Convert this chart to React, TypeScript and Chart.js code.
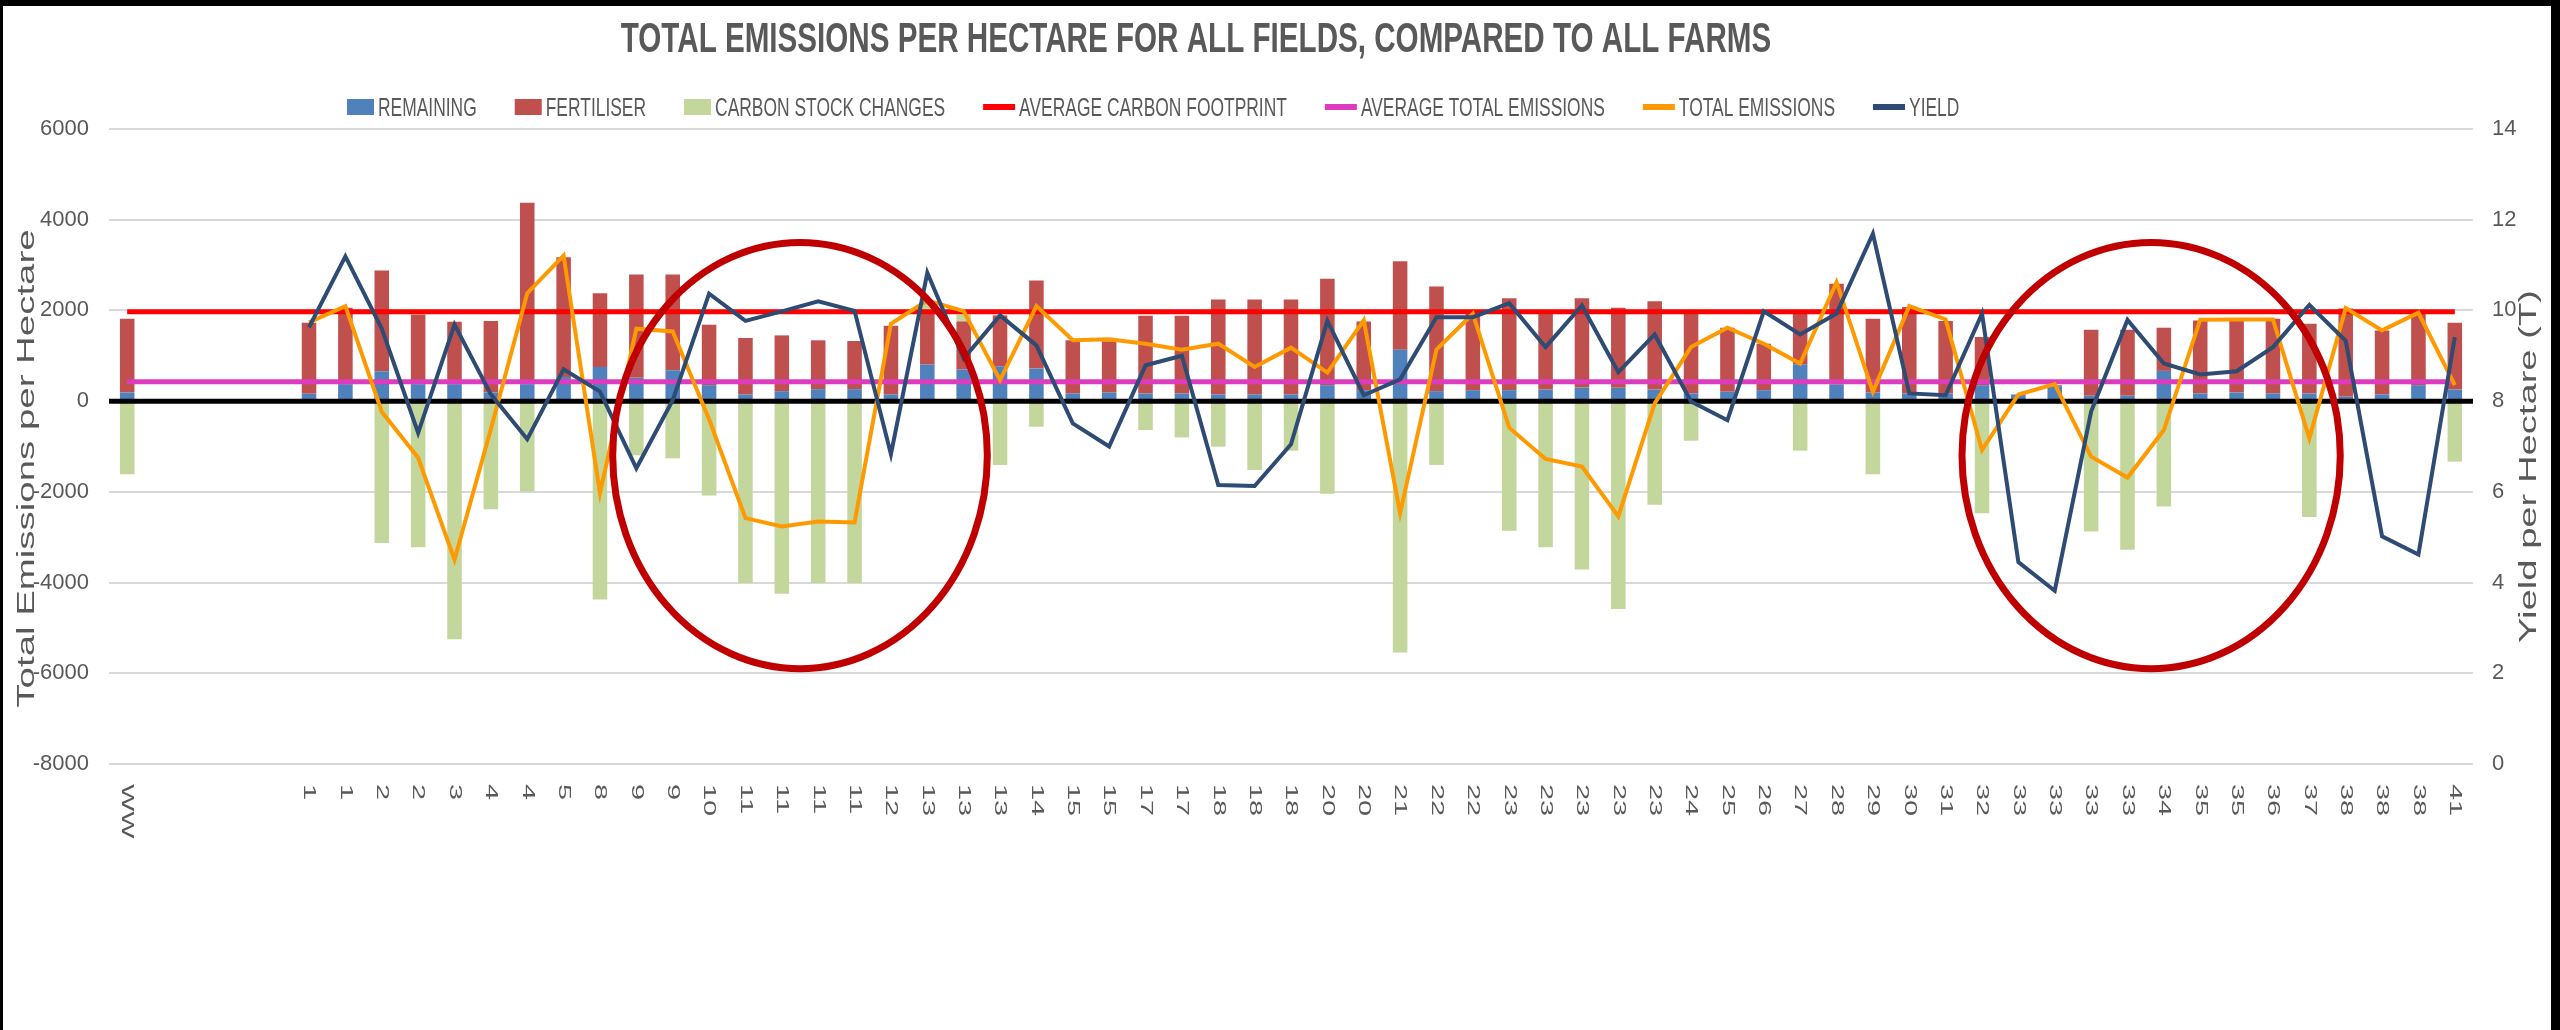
import React, { useEffect, useRef } from 'react';
import { Chart, registerables } from 'chart.js';

Chart.register(...registerables);

// ---------------- DATA ----------------
const categories = [
  'WW', '', '', '', '',
  '1', '1', '2', '2', '3', '4', '4', '5', '8', '9',
  '9', '10', '11', '11', '11', '11', '12', '13', '13', '13',
  '14', '15', '15', '17', '17', '18', '18', '18', '20', '20',
  '21', '22', '22', '23', '23', '23', '23', '23', '24', '25',
  '26', '27', '28', '29', '30', '31', '32', '33', '33', '33',
  '33', '34', '35', '35', '36', '37', '38', '38', '38', '41',
];

const remaining = [
  190, null, null, null, null,
  161, 374, 659, 374, 374, 190, 374, 535, 755, 513,
  681, 352, 147, 220, 264, 264, 147, 806, 696, 769,
  718, 168, 190, 168, 168, 147, 147, 147, 352, 242,
  1135, 220, 242, 242, 256, 300, 293, 256, 168, 205,
  242, 813, 366, 190, 168, 168, 352, 147, 330, 117,
  117, 667, 168, 190, 168, 168, 95, 147, 352, 256,
];

const fertiliser = [
  1627, null, null, null, null,
  1568, 1685, 2220, 1538, 1377, 1576, 4000, 2637, 1626, 2278,
  2110, 1333, 1245, 1230, 1077, 1062, 1516, 1209, 1062, 1121,
  1941, 1173, 1129, 1715, 1715, 2095, 2095, 2095, 2344, 1516,
  1949, 2307, 1685, 2029, 1707, 1971, 1766, 1949, 1795, 1414,
  1025, 1150, 2220, 1627, 1905, 1598, 1062, 0, 20, 1458,
  1458, 952, 1612, 1590, 1649, 1539, 1950, 1413, 1597, 1473,
];

const carbonStockChanges = [
  -1612, null, null, null, null,
  null, null, -3128, -3223, -5252, -2381, -1993, null, -4374, -1194,
  -1260, -2081, -4007, -4249, -4007, -4007, null, 190, 154, -1407,
  -564, null, null, -637, -799, -1004, -1516, -1092, -2044, null,
  -5540, -1407, null, -2857, -3223, -3714, -4580, -2286, -872, null,
  null, -1092, null, -1612, null, null, -2469, null, null, -2872,
  -3275, -2322, null, null, null, -2557, null, null, null, -1333,
];

const totalEmissions = [
  null, null, null, null, null,
  1735, 2095, -234, -1250, -3495, -615, 2381, 3209, -2029, 1597,
  1538, -400, -2579, -2762, -2652, -2674, 1707, 2220, 1985, 462,
  2095, 1341, 1363, 1267, 1136, 1267, 755, 1180, 630, 1780,
  -2469, 1136, 1927, -586, -1275, -1443, -2542, -51, 1194, 1619,
  1267, 828, 2623, 205, 2095, 1802, -1077, 147, 374, -1223,
  -1685, -637, 1795, 1802, 1802, -820, 2051, 1560, 1949, 352,
];

const yieldPerHectare = [
  null, null, null, null, null,
  9.63, 11.19, 9.6, 7.3, 9.69, 8.15, 7.16, 8.7, 8.21, 6.52,
  8.02, 10.37, 9.77, 9.98, 10.2, 9.99, 6.83, 10.83, 8.94, 9.89,
  9.23, 7.51, 7.0, 8.79, 9.0, 6.15, 6.13, 7.05, 9.77, 8.13,
  8.48, 9.85, 9.85, 10.16, 9.19, 10.11, 8.64, 9.47, 7.99, 7.58,
  9.98, 9.47, 9.93, 11.69, 8.17, 8.13, 9.93, 4.45, 3.82, 7.77,
  9.79, 8.83, 8.59, 8.66, 9.19, 10.12, 9.33, 5.02, 4.62, 9.41,
];

const averageCarbonFootprint = 1970;
const averageTotalEmissions = 425;

const leftTicks = { min: -8000, max: 6000, step: 2000 };
const rightTicks = { min: 0, max: 14, step: 2 };

// highlighted groups (in data units: category index, emission value)
const highlights = [
  { center: 18.5, value: -1200, halfCats: 5.15, halfValue: 4700 },
  { center: 55.65, value: -1200, halfCats: 5.2, halfValue: 4700 },
];

const TITLE = 'TOTAL EMISSIONS PER HECTARE FOR ALL FIELDS, COMPARED TO ALL FARMS';
const Y_TITLE = 'Total Emissions per Hectare';
const Y1_TITLE = 'Yield per Hectare (T)';

// ---------------- STYLE ----------------
const C_REMAIN = '#4F81BD';
const C_FERT = '#C0504D';
const C_CARBON = '#C3D69B';
const C_AVG_CF = '#FF0000';
const C_AVG_TE = '#DE3CBE';
const C_TOTAL = '#FF9900';
const C_YIELD = '#2D4B73';
const C_TEXT = '#595959';
const FONT = '"Liberation Sans", Arial, sans-serif';
const NARROW = '"Liberation Sans Narrow", "Liberation Sans", Arial, sans-serif';

const legendItems = [
  { label: 'REMAINING', kind: 'box', color: C_REMAIN },
  { label: 'FERTILISER', kind: 'box', color: C_FERT },
  { label: 'CARBON STOCK CHANGES', kind: 'box', color: C_CARBON },
  { label: 'AVERAGE CARBON FOOTPRINT', kind: 'line', color: C_AVG_CF },
  { label: 'AVERAGE TOTAL EMISSIONS', kind: 'line', color: C_AVG_TE },
  { label: 'TOTAL EMISSIONS', kind: 'line', color: C_TOTAL },
  { label: 'YIELD', kind: 'line', color: C_YIELD },
];

const BAR_LAST_DRAWN = 4; // index of the 'remaining' dataset (drawn last among bars)

const decorPlugin = {
  id: 'decor',
  afterDatasetDraw(chart: any, args: any) {
    if (args.index !== BAR_LAST_DRAWN) return;
    const { ctx, chartArea } = chart;
    const y0 = chart.scales.y.getPixelForValue(0);
    ctx.save();
    ctx.strokeStyle = '#000000';
    ctx.lineWidth = 5;
    ctx.beginPath();
    ctx.moveTo(chartArea.left, y0);
    ctx.lineTo(chartArea.right, y0);
    ctx.stroke();
    ctx.restore();
  },
  afterDraw(chart: any) {
    const { ctx } = chart;
    const xs = chart.scales.x;
    const ys = chart.scales.y;

    // Title
    ctx.save();
    ctx.fillStyle = C_TEXT;
    ctx.font = `bold 42px ${FONT}`;
    ctx.textBaseline = 'alphabetic';
    ctx.textAlign = 'center';
    ctx.translate(1196, 52);
    ctx.scale(0.705, 1);
    ctx.fillText(TITLE, 0, 0);
    ctx.restore();

    // Legend
    ctx.save();
    ctx.font = `26px ${FONT}`;
    ctx.textBaseline = 'alphabetic';
    ctx.textAlign = 'left';
    const sx = 0.67;
    let x = 347;
    const midY = 107;
    for (const it of legendItems) {
      ctx.fillStyle = it.color;
      let mw = 0;
      if (it.kind === 'box') {
        mw = 27;
        ctx.fillRect(x, midY - 8, mw, 16);
      } else {
        mw = 32;
        ctx.fillRect(x, midY - 3, mw, 6);
      }
      x += mw + 4;
      const w = ctx.measureText(it.label).width * sx;
      ctx.save();
      ctx.translate(x, 116);
      ctx.scale(sx, 1);
      ctx.fillStyle = C_TEXT;
      ctx.fillText(it.label, 0, 0);
      ctx.restore();
      x += w + 38;
    }
    ctx.restore();

    // Axis titles
    const drawVertical = (text: string, cx: number, cy: number, stretch: number) => {
      ctx.save();
      ctx.fillStyle = C_TEXT;
      ctx.font = `23px ${FONT}`;
      ctx.textAlign = 'center';
      ctx.textBaseline = 'middle';
      ctx.translate(cx, cy);
      ctx.rotate(-Math.PI / 2);
      ctx.scale(stretch, 1);
      ctx.fillText(text, 0, 0);
      ctx.restore();
    };
    const midPlot = (chart.chartArea.top + chart.chartArea.bottom) / 2;
    drawVertical(Y_TITLE, 28, midPlot + 22, 1.67);
    drawVertical(Y1_TITLE, 2530, midPlot + 20, 1.66);

    // Category labels, rotated clockwise
    ctx.save();
    ctx.fillStyle = C_TEXT;
    ctx.font = `17px ${FONT}`;
    ctx.textAlign = 'left';
    ctx.textBaseline = 'middle';
    const labelTop = chart.chartArea.bottom + 20;
    categories.forEach((lab, i) => {
      if (!lab) return;
      const px = xs.getPixelForValue(i);
      ctx.save();
      ctx.translate(px, labelTop);
      ctx.rotate(Math.PI / 2);
      ctx.scale(1.7, 1);
      ctx.fillText(lab, 0, 0);
      ctx.restore();
    });
    ctx.restore();

    // Highlight ellipses
    ctx.save();
    ctx.strokeStyle = '#C00000';
    ctx.lineWidth = 7;
    for (const h of highlights) {
      const cx = xs.getPixelForValue(h.center);
      const rx = xs.getPixelForValue(h.center + h.halfCats) - cx;
      const cy = ys.getPixelForValue(h.value);
      const ry = ys.getPixelForValue(h.value - h.halfValue) - cy;
      ctx.beginPath();
      ctx.ellipse(cx, cy, Math.abs(rx), Math.abs(ry), 0, 0, Math.PI * 2);
      ctx.stroke();
    }
    ctx.restore();
  },
};

export default function App() {
  const canvasRef = useRef<HTMLCanvasElement | null>(null);

  useEffect(() => {
    const canvas = canvasRef.current;
    if (!canvas) return;
    const flat = (v: number) => categories.map(() => v);
    const lineBase = {
      type: 'line' as const,
      pointRadius: 0,
      pointHoverRadius: 0,
      tension: 0,
      fill: false,
      spanGaps: false,
    };
    const chart = new Chart(canvas, {
      type: 'bar',
      data: {
        labels: categories,
        datasets: [
          { ...lineBase, label: 'YIELD', data: yieldPerHectare, borderColor: C_YIELD, backgroundColor: C_YIELD, borderWidth: 4, yAxisID: 'y1', stack: 's_yield' },
          { ...lineBase, label: 'TOTAL EMISSIONS', data: totalEmissions, borderColor: C_TOTAL, backgroundColor: C_TOTAL, borderWidth: 4, yAxisID: 'y', stack: 's_total' },
          { ...lineBase, label: 'AVERAGE TOTAL EMISSIONS', data: flat(averageTotalEmissions), borderColor: C_AVG_TE, backgroundColor: C_AVG_TE, borderWidth: 5, yAxisID: 'y', stack: 's_avgte' },
          { ...lineBase, label: 'AVERAGE CARBON FOOTPRINT', data: flat(averageCarbonFootprint), borderColor: C_AVG_CF, backgroundColor: C_AVG_CF, borderWidth: 5, yAxisID: 'y', stack: 's_avgcf' },
          { type: 'bar', label: 'REMAINING', data: remaining, backgroundColor: C_REMAIN, yAxisID: 'y', stack: 'bars', barPercentage: 0.4, categoryPercentage: 1 },
          { type: 'bar', label: 'FERTILISER', data: fertiliser, backgroundColor: C_FERT, yAxisID: 'y', stack: 'bars', barPercentage: 0.4, categoryPercentage: 1 },
          { type: 'bar', label: 'CARBON STOCK CHANGES', data: carbonStockChanges, backgroundColor: C_CARBON, yAxisID: 'y', stack: 'bars', barPercentage: 0.4, categoryPercentage: 1 },
        ] as any,
      },
      options: {
        responsive: false,
        maintainAspectRatio: false,
        animation: false,
        events: [],
        layout: { padding: { top: 129, bottom: 266, left: 0, right: 0 } },
        plugins: {
          legend: { display: false },
          title: { display: false },
          tooltip: { enabled: false },
        },
        scales: {
          x: {
            stacked: true,
            offset: true,
            grid: { display: false, drawTicks: false },
            border: { display: false },
            ticks: { display: false },
            afterFit: (s: any) => { s.height = 0; },
          },
          y: {
            position: 'left',
            stacked: true,
            min: leftTicks.min,
            max: leftTicks.max,
            ticks: {
              stepSize: leftTicks.step,
              padding: 20,
              color: C_TEXT,
              font: { family: NARROW, size: 22 },
              callback: (v: any) => String(v),
            },
            grid: { color: '#D9D9D9', lineWidth: 2, drawTicks: false },
            border: { display: false },
            afterFit: (s: any) => { s.width = 109; },
          },
          y1: {
            position: 'right',
            min: rightTicks.min,
            max: rightTicks.max,
            ticks: {
              stepSize: rightTicks.step,
              padding: 19,
              color: C_TEXT,
              font: { family: NARROW, size: 22 },
              callback: (v: any) => String(v),
            },
            grid: { display: false, drawTicks: false },
            border: { display: false },
            afterFit: (s: any) => { s.width = 87; },
          },
        },
      } as any,
      plugins: [decorPlugin],
    });
    return () => chart.destroy();
  }, []);

  return (
    <div style={{ position: 'fixed', left: 0, top: 0, width: 2560, height: 1030, background: '#ffffff', overflow: 'hidden' }}>
      <canvas ref={canvasRef} width={2560} height={1030} style={{ display: 'block', width: 2560, height: 1030 }} />
      <div
        style={{
          position: 'absolute', left: 0, top: 0, width: 2560, height: 1030, boxSizing: 'border-box',
          borderTop: '6px solid #000', borderLeft: '3px solid #000', borderRight: '9px solid #000',
          pointerEvents: 'none',
        }}
      />
    </div>
  );
}
